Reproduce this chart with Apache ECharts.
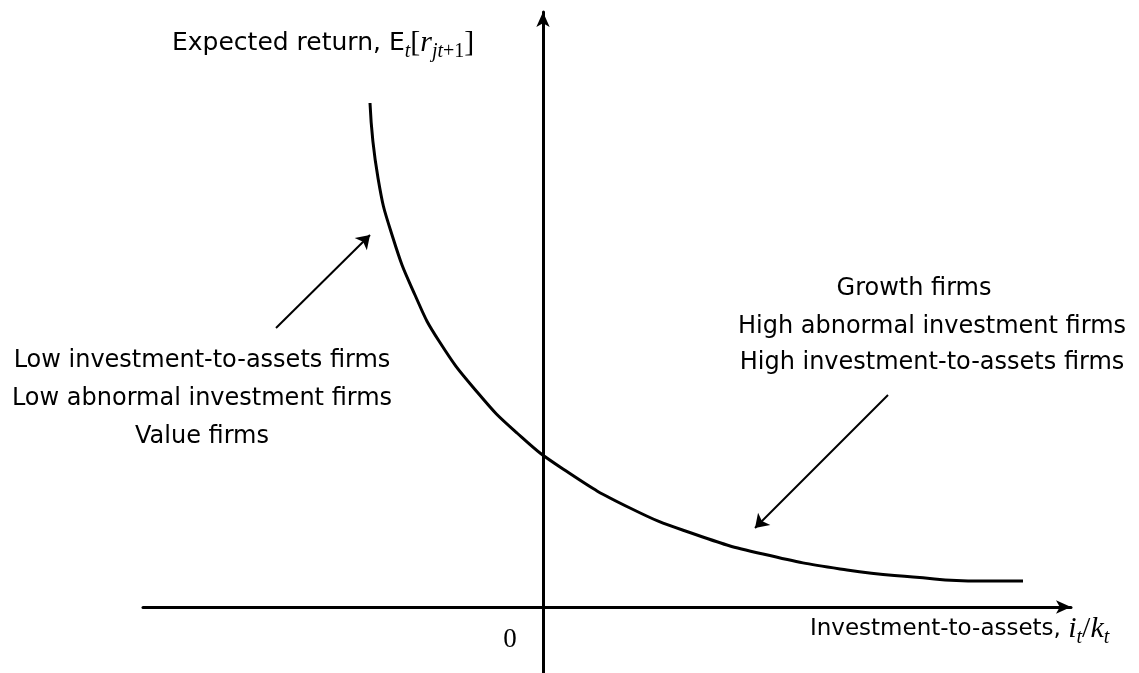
<!DOCTYPE html>
<html>
<head>
<meta charset="utf-8">
<script src="https://cdn.jsdelivr.net/npm/echarts@6/dist/echarts.min.js"></script>
<style>
html, body { margin: 0; padding: 0; background: #fff; }
#chart { width: 1139px; height: 673px; }
</style>
</head>
<body>
<div id="chart"></div>
<script>
// expected return curve, origin = where the two axes cross
const curveX = [-1.73, -1.65, -1.50, -1.28, -1.04, -0.65, -0.26, 0.20, 0.87, 1.54, 2.20, 3.04, 3.70, 4.37, 4.80];
const curveY = [5.04, 4.29, 3.69, 3.12, 2.66, 2.14, 1.74, 1.38, 0.99, 0.72, 0.53, 0.37, 0.30, 0.26, 0.26];

// annotation arrows: [tailX, tailY, tipX, tipY]
const lowArrow = [-2.67, 2.79, -1.73, 3.72];
const highArrow = [3.45, 2.12, 2.12, 0.79];

const lowLabels = ['Low investment-to-assets firms', 'Low abnormal investment firms', 'Value firms'];
const highLabels = ['Growth firms', 'High abnormal investment firms', 'High investment-to-assets firms'];

const xRange = [-4, 5.28];
const yRange = [-0.66, 5.95];

const SANS = 'DejaVu Sans';
const SERIF = 'Liberation Serif';
const FS = 24;

const myChart = echarts.init(document.getElementById('chart'));

function axisCfg(range) {
    return {
        type: 'value',
        min: range[0],
        max: range[1],
        axisLine: {
            onZero: true,
            symbol: ['none', 'arrow'],
            symbolSize: [10, 15],
            lineStyle: { color: '#000', width: 3 }
        },
        axisTick: { show: false },
        axisLabel: { show: false },
        splitLine: { show: false }
    };
}

function mathRich(sansSize) {
    return {
        s: { fontFamily: SANS, fontSize: sansSize, color: '#000' },
        m: { fontFamily: SERIF, fontSize: 30, color: '#000' },
        mi: { fontFamily: SERIF, fontStyle: 'italic', fontSize: 30, color: '#000' },
        sub: { fontFamily: SERIF, fontStyle: 'italic', fontSize: 20, color: '#000', padding: [18, 0, 0, 0] },
        subr: { fontFamily: SERIF, fontSize: 20, color: '#000', padding: [18, 0, 0, 0] }
    };
}

function textEl(text, x, y, align) {
    return {
        type: 'text',
        x: x,
        y: y,
        style: {
            text: text,
            fontFamily: SANS,
            fontSize: FS,
            fill: '#000',
            align: align,
            verticalAlign: 'middle',
            lineHeight: 38
        }
    };
}

const option = {
    animation: false,
    grid: { left: 143, right: 68, top: 12, bottom: 0 },
    xAxis: axisCfg(xRange),
    yAxis: axisCfg(yRange),
    series: [
        {
            type: 'line',
            data: curveX.map((x, i) => [x, curveY[i]]),
            showSymbol: false,
            smooth: 0.5,
            lineStyle: { color: '#000', width: 3 }
        },
        {
            type: 'lines',
            coordinateSystem: 'cartesian2d',
            symbol: ['none', 'arrow'],
            symbolSize: 13,
            lineStyle: { color: '#000', width: 2, opacity: 1 },
            data: [lowArrow, highArrow].map(a => ({ coords: [[a[0], a[1]], [a[2], a[3]]] }))
        }
    ],
    graphic: [
        textEl(lowLabels.join('\n'), 202, 399, 'center'),
        textEl(highLabels[0], 914, 289, 'center'),
        textEl(highLabels[1], 932, 327, 'center'),
        textEl(highLabels[2], 932, 363, 'center'),
        {
            type: 'text',
            x: 172,
            y: 43,
            style: {
                text: '{s|Expected return, E}{sub|t}{m|[}{mi|r}{sub|jt}{subr|+1}{m|]}',
                rich: mathRich(25),
                align: 'left',
                verticalAlign: 'middle'
            }
        },
        {
            type: 'text',
            x: 810,
            y: 629,
            style: {
                text: '{s|Investment-to-assets, }{mi|i}{sub|t}{m|/}{mi|k}{sub|t}',
                rich: mathRich(23),
                align: 'left',
                verticalAlign: 'middle'
            }
        },
        {
            type: 'text',
            x: 510,
            y: 640,
            style: {
                text: '0',
                fontFamily: SERIF,
                fontSize: 27,
                fill: '#000',
                align: 'center',
                verticalAlign: 'middle'
            }
        }
    ]
};

myChart.setOption(option);
</script>
</body>
</html>
